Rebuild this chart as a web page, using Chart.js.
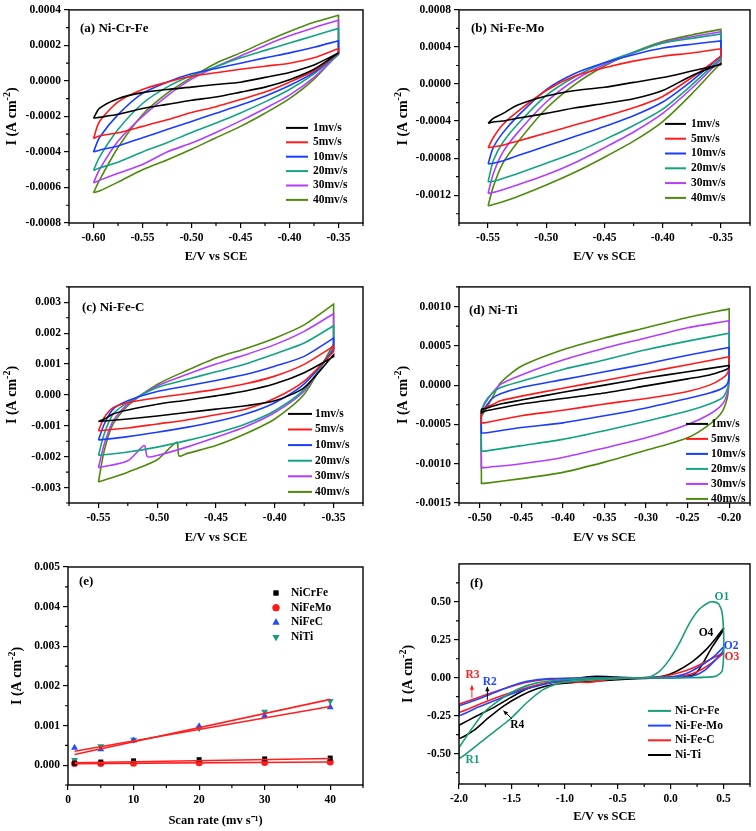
<!DOCTYPE html>
<html>
<head>
<meta charset="utf-8">
<script src="https://cdn.jsdelivr.net/npm/chart.js@4.4.1/dist/chart.umd.min.js"></script>
<style>
  body { margin: 0; background: #fff; }
  #wrap { position: relative; width: 756px; height: 831px; }
  .panel { position: absolute; width: 378px; height: 277px; }
</style>
</head>
<body>
<div id="wrap">
  <div class="panel" style="left:0;top:0"><canvas id="chA" width="378" height="277"></canvas></div>
  <div class="panel" style="left:378px;top:0"><canvas id="chB" width="378" height="277"></canvas></div>
  <div class="panel" style="left:0;top:277px"><canvas id="chC" width="378" height="277"></canvas></div>
  <div class="panel" style="left:378px;top:277px"><canvas id="chD" width="378" height="277"></canvas></div>
  <div class="panel" style="left:0;top:554px"><canvas id="chE" width="378" height="277"></canvas></div>
  <div class="panel" style="left:378px;top:554px"><canvas id="chF" width="378" height="277"></canvas></div>
</div>
<script>
const FONT = "'Liberation Serif', 'Times New Roman', serif";
const rateLabels = ["1mv/s", "5mv/s", "10mv/s", "20mv/s", "30mv/s", "40mv/s"];
const rateColors = ["#000000", "#ff1a1a", "#1a3cff", "#12a383", "#b43cff", "#4d8a0c"];

// ---- (a) Ni-Cr-Fe ----
const aXTicks = [-0.60, -0.55, -0.50, -0.45, -0.40, -0.35];
const aYTicks = [-0.0008, -0.0006, -0.0004, -0.0002, 0, 0.0002, 0.0004];
const aE = [-0.60, -0.594, -0.575, -0.55, -0.525, -0.50, -0.475, -0.45, -0.425, -0.40, -0.375, -0.35];
const aUp = [
  [-0.00021, -0.000155, -0.0001, -0.000066, -0.000048, -0.000035, -0.00002, -0.000007, 0.00002, 0.000048, 0.00009, 0.000158],
  [-0.000324, -0.00023, -0.000118, -0.000048, -0.000007, 0.000026, 0.000046, 0.000066, 0.000083, 0.0001, 0.00013, 0.000182],
  [-0.0004, -0.00032, -0.00019, -0.00007, -0.000007, 0.00004, 0.00007, 0.0001, 0.00013, 0.000158, 0.00019, 0.000226],
  [-0.000504, -0.00043, -0.000274, -0.000127, -0.000035, 0.00003, 0.00008, 0.00013, 0.000172, 0.000213, 0.000255, 0.000296],
  [-0.000574, -0.0005, -0.00034, -0.0002, -0.000085, 0.00001, 0.00008, 0.00014, 0.0002, 0.000254, 0.0003, 0.000342],
  [-0.00063, -0.00056, -0.000375, -0.00019, -0.00007, 0.00002, 0.0001, 0.000158, 0.00022, 0.000278, 0.00033, 0.00037]
];
const aDn = [
  [-0.00021, -0.000205, -0.000188, -0.000155, -0.000132, -0.000109, -0.00009, -0.000063, -0.000035, 0.000007, 0.000066, 0.000158],
  [-0.000324, -0.00031, -0.000292, -0.000256, -0.000219, -0.000178, -0.000145, -0.000105, -0.000063, -0.000007, 0.000057, 0.000158],
  [-0.0004, -0.00039, -0.000366, -0.00032, -0.000274, -0.000228, -0.000182, -0.000136, -0.000086, -0.000026, 0.000048, 0.000158],
  [-0.000504, -0.00049, -0.000458, -0.0004, -0.000348, -0.00029, -0.000237, -0.00018, -0.000118, -0.000048, 0.00004, 0.00015],
  [-0.000574, -0.00056, -0.00052, -0.00047, -0.0004, -0.00035, -0.00029, -0.000225, -0.000155, -0.00008, 0.00002, 0.00015],
  [-0.00063, -0.00062, -0.00057, -0.0005, -0.000445, -0.000385, -0.00032, -0.000256, -0.000182, -0.0001, 0.00001, 0.000158]
];

// ---- (b) Ni-Fe-Mo ----
const bXTicks = [-0.55, -0.50, -0.45, -0.40, -0.35];
const bYTicks = [-0.0012, -0.0008, -0.0004, 0, 0.0004, 0.0008];
const bE = [-0.55, -0.5456, -0.5375, -0.525, -0.50, -0.475, -0.45, -0.425, -0.40, -0.375, -0.35];
const bUp = [
  [-0.000423, -0.00037, -0.00032, -0.00023, -0.00013, -0.00007, -0.000035, 0.000018, 0.00007, 0.00014, 0.00021],
  [-0.000687, -0.00058, -0.00044, -0.0003, -0.00007, 0.000088, 0.000176, 0.000247, 0.0003, 0.000335, 0.00038],
  [-0.000863, -0.000687, -0.00053, -0.000352, -0.00006, 0.000116, 0.000229, 0.000317, 0.000388, 0.00043, 0.000465],
  [-0.001057, -0.000828, -0.000634, -0.00044, -0.000123, 0.000081, 0.000229, 0.000342, 0.00044, 0.000493, 0.00054],
  [-0.00118, -0.00097, -0.00074, -0.00053, -0.000194, 0.000046, 0.00021, 0.000335, 0.000448, 0.00051, 0.000564],
  [-0.001315, -0.00111, -0.00086, -0.000634, -0.000264, 0.0, 0.000194, 0.000342, 0.000458, 0.00053, 0.00059]
];
const bDn = [
  [-0.000423, -0.00041, -0.0004, -0.00037, -0.000317, -0.000257, -0.00021, -0.000159, -0.00007, 0.00009, 0.00022],
  [-0.000687, -0.00068, -0.00066, -0.000617, -0.000529, -0.00044, -0.000352, -0.000257, -0.000134, 0.00007, 0.0003],
  [-0.000863, -0.000855, -0.00083, -0.000775, -0.00067, -0.000564, -0.000458, -0.000342, -0.000194, 0.000035, 0.0003],
  [-0.001057, -0.00105, -0.00102, -0.000969, -0.000856, -0.00074, -0.0006, -0.000448, -0.000271, -0.00001, 0.00028],
  [-0.00118, -0.00117, -0.00114, -0.00109, -0.00098, -0.000846, -0.000687, -0.000518, -0.000317, -0.000046, 0.000264],
  [-0.001315, -0.0013, -0.00127, -0.001216, -0.00109, -0.00095, -0.00079, -0.000617, -0.000405, -0.000106, 0.00023]
];

// ---- (c) Ni-Fe-C ----
const cXTicks = [-0.55, -0.50, -0.45, -0.40, -0.35];
const cYTicks = [-0.003, -0.002, -0.001, 0, 0.001, 0.002, 0.003];
const cEUp = [-0.55, -0.545, -0.5375, -0.525, -0.50, -0.475, -0.45, -0.425, -0.40, -0.375, -0.35];
const cUp = [
  [-0.00086, -0.00078, -0.00062, -0.00049, -0.0003, -0.00017, -0.00003, 0.00013, 0.00036, 0.00072, 0.00124],
  [-0.00116, -0.00073, -0.00041, -0.00025, -0.00009, 0.00004, 0.00018, 0.00036, 0.00061, 0.00099, 0.00158],
  [-0.00146, -0.00094, -0.00046, -0.00019, 0.00011, 0.00029, 0.00047, 0.00066, 0.00093, 0.00125, 0.00184],
  [-0.00196, -0.00126, -0.00062, -0.00025, 0.00024, 0.0005, 0.00075, 0.001, 0.00133, 0.00168, 0.00224],
  [-0.00236, -0.00159, -0.00084, -0.0003, 0.00029, 0.00066, 0.001, 0.0013, 0.00163, 0.00206, 0.00263],
  [-0.00282, -0.0018, -0.00094, -0.00035, 0.00034, 0.00079, 0.0012, 0.0015, 0.00184, 0.00227, 0.00294]
];
const cEDn = [-0.55, -0.525, -0.50, -0.475, -0.45, -0.425, -0.40, -0.375, -0.35];
const cEDnPurple = [-0.55, -0.525, -0.511, -0.5083, -0.50, -0.475, -0.45, -0.425, -0.40, -0.375, -0.35];
const cEDnGreen = [-0.55, -0.525, -0.50, -0.4834, -0.4814, -0.475, -0.45, -0.425, -0.40, -0.375, -0.35];
const cDn = [
  [-0.00086, -0.00078, -0.00068, -0.00057, -0.00046, -0.00035, -0.00019, 0.00024, 0.0013],
  [-0.00116, -0.00107, -0.00094, -0.00081, -0.00064, -0.00046, -0.00011, 0.00045, 0.0014],
  [-0.00146, -0.00135, -0.00121, -0.00105, -0.00086, -0.00062, -0.00025, 0.00036, 0.00145],
  [-0.00196, -0.00185, -0.00169, -0.00148, -0.00124, -0.00094, -0.00051, 0.00018, 0.0015],
  [-0.00236, -0.00213, -0.00164, -0.0020, -0.00196, -0.00169, -0.00137, -0.00103, -0.00057, 0.00013, 0.00155],
  [-0.00282, -0.0025, -0.0021, -0.00153, -0.00198, -0.0019, -0.00164, -0.00126, -0.00078, 0.00002, 0.00165]
];
const cEDnList = [cEDn, cEDn, cEDn, cEDn, cEDnPurple, cEDnGreen];

// ---- (d) Ni-Ti ----
const dXTicks = [-0.50, -0.45, -0.40, -0.35, -0.30, -0.25, -0.20];
const dYTicks = [-0.0015, -0.0010, -0.0005, 0, 0.0005, 0.0010];
const dEUp = [-0.498, -0.498, -0.494, -0.485, -0.475, -0.45, -0.40, -0.35, -0.30, -0.25, -0.20];
const dUp = [
  [-0.00035, -0.00031, -0.0003, -0.00027, -0.00024, -0.00019, -0.00009, 0.0, 0.00009, 0.00017, 0.00025],
  [-0.00048, -0.00033, -0.00029, -0.00025, -0.0002, -0.00014, -0.00004, 0.00006, 0.00016, 0.00026, 0.00036],
  [-0.00061, -0.00037, -0.00029, -0.00017, -0.00011, -0.00003, 0.00007, 0.00017, 0.00027, 0.00038, 0.00048],
  [-0.00084, -0.00035, -0.00022, -0.0001, -0.00003, 0.00005, 0.0002, 0.00032, 0.00045, 0.00056, 0.00066],
  [-0.00105, -0.00035, -0.00024, -0.0001, 0.00001, 0.00013, 0.00032, 0.00047, 0.0006, 0.00073, 0.00082],
  [-0.00125, -0.0004, -0.00033, -0.00016, 0.00003, 0.00024, 0.00045, 0.0006, 0.00073, 0.00086, 0.00097]
];
const dEDn = [-0.494, -0.45, -0.40, -0.35, -0.30, -0.25, -0.2237, -0.208, -0.2016, -0.20];
const dDn = [
  [-0.00033, -0.00024, -0.00017, -0.0001, -0.00001, 0.00008, 0.00013, 0.00018, 0.00021, 0.00024],
  [-0.00048, -0.00039, -0.00032, -0.00024, -0.00017, -0.00008, 0.0, 0.00009, 0.00016, 0.00026],
  [-0.00061, -0.00054, -0.00048, -0.00039, -0.00029, -0.00017, -0.0001, -0.00004, 0.00003, 0.00013],
  [-0.00084, -0.00077, -0.00069, -0.00058, -0.00046, -0.00033, -0.00024, -0.00016, -0.00003, 0.00009],
  [-0.00105, -0.001, -0.00092, -0.0008, -0.00067, -0.0005, -0.00037, -0.00024, -0.00008, 0.00009],
  [-0.00125, -0.00119, -0.00111, -0.00098, -0.00083, -0.00067, -0.0005, -0.00033, -0.00012, 0.00032]
];

// ---- (e) scan rate ----
const eXTicks = [0, 10, 20, 30, 40];
const eYTicks = [0, 0.001, 0.002, 0.003, 0.004, 0.005];
const scanRates = [1, 5, 10, 20, 30, 40];
const eNiCrFe = [0.00005, 0.00008, 0.00011, 0.00014, 0.00016, 0.00018];
const eNiFeMo = [0.00004, 0.00004, 0.00005, 0.00006, 0.00007, 0.00008];
const eNiFeC = [0.00044, 0.0004, 0.00062, 0.00098, 0.00125, 0.00146];
const eNiTi = [0.00013, 0.00048, 0.00064, 0.00093, 0.00135, 0.00162];
const fitX = [1, 40];
const fitNiCrFe = [0.00006, 0.00017];
const fitNiFeMo = [0.00004, 0.00008];
const fitNiFeC = [0.00035, 0.00148];
const fitNiTi = [0.00027, 0.00166];

// ---- (f) wide range CV ----
const fXTicks = [-2.0, -1.5, -1.0, -0.5, 0.0, 0.5];
const fYTicks = [-0.50, -0.25, 0, 0.25, 0.50];
const fCrFeE = [-2.0, -1.888, -1.763, -1.607, -1.451, -1.263, -1.014, -0.733, -0.265, -0.202, -0.109, -0.015, 0.079, 0.172, 0.266, 0.36, 0.406, 0.453, 0.484, 0.5, 0.5, 0.484, 0.422, 0.203, -0.265, -0.733, -1.045, -1.201, -1.357, -1.513, -1.669, -1.825, -2.0, -2.0];
const fCrFeI = [-0.46, -0.345, -0.227, -0.142, -0.077, -0.034, -0.013, -0.004, 0, 0.004, 0.04, 0.116, 0.223, 0.352, 0.448, 0.496, 0.5, 0.487, 0.438, 0.31, 0.137, 0.04, 0.009, 0, -0.002, -0.013, -0.034, -0.077, -0.163, -0.27, -0.356, -0.442, -0.532, -0.46];
const fFeMoE = [-2.0, -1.825, -1.669, -1.513, -1.357, -1.139, -0.733, -0.265, -0.015, 0.141, 0.297, 0.422, 0.5, 0.49, 0.422, 0.328, 0.235, 0.141, -0.109, -0.577, -1.014, -1.201, -1.357, -1.513, -1.669, -1.825, -2.0, -2.0];
const fFeMoI = [-0.185, -0.142, -0.099, -0.056, -0.024, -0.006, 0, 0, 0.004, 0.026, 0.084, 0.148, 0.202, 0.17, 0.116, 0.052, 0.017, 0.004, 0, -0.004, -0.017, -0.045, -0.073, -0.109, -0.152, -0.195, -0.249, -0.185];
const fFeCE = [-2.0, -1.825, -1.669, -1.513, -1.357, -1.201, -0.889, -0.421, -0.109, 0.047, 0.203, 0.36, 0.5, 0.49, 0.391, 0.297, 0.203, 0.047, -0.265, -0.577, -0.764, -0.951, -1.139, -1.326, -1.513, -1.669, -1.825, -2.0, -2.0];
const fFeCI = [-0.174, -0.131, -0.094, -0.06, -0.03, -0.013, -0.004, 0, 0.004, 0.026, 0.062, 0.116, 0.163, 0.155, 0.099, 0.056, 0.026, 0.004, 0, -0.009, -0.03, -0.026, -0.03, -0.06, -0.099, -0.137, -0.18, -0.227, -0.174];
const fTiE = [-2.0, -1.825, -1.669, -1.513, -1.357, -1.201, -1.014, -0.889, -0.702, -0.514, -0.265, -0.077, 0.047, 0.203, 0.328, 0.422, 0.5, 0.484, 0.391, 0.313, 0.266, 0.203, 0.047, -0.265, -0.577, -0.889, -1.107, -1.263, -1.42, -1.576, -1.732, -1.856, -2.0, -2.0];
const fTiI = [-0.313, -0.249, -0.195, -0.131, -0.073, -0.039, -0.021, -0.004, 0.009, 0.004, 0, 0.009, 0.04, 0.105, 0.18, 0.255, 0.326, 0.298, 0.202, 0.105, 0.052, 0.017, 0.004, -0.004, -0.017, -0.03, -0.045, -0.073, -0.12, -0.185, -0.27, -0.345, -0.399, -0.313];

// ---------- helpers ----------
// walk the lower branch left->right, then the upper branch back; the
// repeated points at the turns keep the spline from bulging past the vertex
function loopPoints(eDn, iDn, eUp, iUp) {
  const pts = eDn.map((e, k) => ({ x: e, y: iDn[k] }));
  pts.push(pts[pts.length - 1]);
  const top = eUp.length - 1;
  pts.push({ x: eUp[top], y: iUp[top] });
  for (let k = top; k >= 0; k--) pts.push({ x: eUp[k], y: iUp[k] });
  pts.push(pts[pts.length - 1]);
  pts.push(pts[0]);
  return pts;
}
function zipPoints(xs, ys) {
  return xs.map((x, k) => ({ x: x, y: ys[k] }));
}
function minorTicks(ticks, min, max) {
  const step = ticks[1] - ticks[0];
  const out = [];
  for (let v = ticks[0] - step / 2; v <= max + 1e-12; v += step) {
    if (v >= min - 1e-12) out.push(v);
  }
  return out;
}
function axis(min, max, ticks, digits, title, titlePad, size, horizontal) {
  return {
    type: "linear",
    min: min,
    max: max,
    afterBuildTicks: (s) => { s.ticks = ticks.map((v) => ({ value: v })); },
    afterFit: (s) => { if (horizontal) s.height = size; else s.width = size; },
    grid: { display: true, drawOnChartArea: false, drawTicks: true, tickLength: 5, color: "#000", lineWidth: 1.2 },
    border: { display: false },
    ticks: {
      color: "#000",
      padding: 3,
      autoSkip: false,
      maxRotation: 0,
      font: { family: FONT, size: 11.5, weight: "bold" },
      callback: (v) => Number(v).toFixed(digits)
    },
    title: {
      display: horizontal,
      text: title,
      color: "#000",
      font: { family: FONT, size: 12.5, weight: "bold" },
      padding: { top: 0, bottom: titlePad }
    }
  };
}

// draws "base" + raised smaller "sup" + "tail", centred on (0,0) of the current transform
function supText(ctx, base, sup, tail, size) {
  const big = "bold " + size + "px " + FONT, small = "bold " + Math.round(size * 0.68) + "px " + FONT;
  ctx.font = big; const w1 = ctx.measureText(base).width, w3 = ctx.measureText(tail).width;
  ctx.font = small; const w2 = ctx.measureText(sup).width;
  let x = -(w1 + w2 + w3) / 2;
  ctx.textAlign = "left"; ctx.textBaseline = "alphabetic";
  const base0 = size * 0.35;
  ctx.font = big; ctx.fillText(base, x, base0); x += w1;
  ctx.font = small; ctx.fillText(sup, x, base0 - size * 0.42); x += w2;
  ctx.font = big; ctx.fillText(tail, x, base0);
}

const decor = {
  id: "decor",
  afterDraw(chart, args, o) {
    const ctx = chart.ctx;
    const a = chart.chartArea;
    const xs = chart.scales.x, ys = chart.scales.y;
    ctx.save();
    ctx.strokeStyle = "#000";
    ctx.lineWidth = 1.2;
    ctx.beginPath();
    minorTicks(o.xTicks, xs.min, xs.max).forEach((v) => {
      const p = xs.getPixelForValue(v);
      ctx.moveTo(p, a.bottom); ctx.lineTo(p, a.bottom + 3);
    });
    minorTicks(o.yTicks, ys.min, ys.max).forEach((v) => {
      const p = ys.getPixelForValue(v);
      ctx.moveTo(a.left - 3, p); ctx.lineTo(a.left, p);
    });
    ctx.stroke();
    ctx.lineWidth = 1.4;
    ctx.strokeRect(a.left, a.top, a.right - a.left, a.bottom - a.top);

    // y title with a real superscript
    ctx.fillStyle = "#000";
    ctx.save();
    ctx.translate(o.yTitleX, (a.top + a.bottom) / 2);
    ctx.rotate(-Math.PI / 2);
    supText(ctx, "I (A cm", "-2", ")", 14);
    ctx.restore();

    ctx.textAlign = "left";
    ctx.textBaseline = "middle";
    ctx.font = "bold 13px " + FONT;
    ctx.fillText(o.label, a.left + o.lx, a.top + o.ly);

    // legend
    const L = o.legend;
    ctx.font = "bold 11.5px " + FONT;
    let row = 0;
    chart.data.datasets.forEach((d) => {
      if (d.noLegend) return;
      const y = a.top + L.y0 + row * L.dy;
      if (L.marker) {
        ctx.fillStyle = d.backgroundColor;
        Chart.helpers.drawPoint(ctx, { pointStyle: d.pointStyle, rotation: d.rotation || 0, radius: d.pointRadius, borderWidth: 0 }, a.right + L.mx, y);
        ctx.fill();
      } else {
        ctx.strokeStyle = d.borderColor;
        ctx.lineWidth = 2;
        ctx.beginPath();
        ctx.moveTo(a.right + L.x1, y); ctx.lineTo(a.right + L.x2, y);
        ctx.stroke();
      }
      ctx.fillStyle = "#000";
      ctx.fillText(d.label, a.right + L.tx, y);
      row++;
    });

    // notes and arrows in data coordinates
    (o.notes || []).forEach((n) => {
      ctx.fillStyle = n.c;
      ctx.textAlign = "center";
      ctx.fillText(n.t, xs.getPixelForValue(n.x), ys.getPixelForValue(n.y));
    });
    (o.arrows || []).forEach((r) => {
      const x1 = xs.getPixelForValue(r.x1), y1 = ys.getPixelForValue(r.y1);
      const x2 = xs.getPixelForValue(r.x2), y2 = ys.getPixelForValue(r.y2);
      const ang = Math.atan2(y2 - y1, x2 - x1);
      ctx.strokeStyle = r.c; ctx.fillStyle = r.c; ctx.lineWidth = 1;
      ctx.beginPath(); ctx.moveTo(x1, y1); ctx.lineTo(x2, y2); ctx.stroke();
      ctx.beginPath();
      ctx.moveTo(x2, y2);
      ctx.lineTo(x2 - 5 * Math.cos(ang - 0.45), y2 - 5 * Math.sin(ang - 0.45));
      ctx.lineTo(x2 - 5 * Math.cos(ang + 0.45), y2 - 5 * Math.sin(ang + 0.45));
      ctx.closePath(); ctx.fill();
    });
    ctx.restore();
  }
};

function makeChart(id, datasets, p) {
  return new Chart(document.getElementById(id), {
    type: "line",
    data: { datasets: datasets },
    options: {
      responsive: false,
      animation: false,
      layout: { padding: { left: 0, top: p.top, right: p.right, bottom: 0 } },
      elements: { point: { radius: 0 } },
      scales: {
        x: axis(p.xMin, p.xMax, p.xTicks, p.xDigits, p.xTitle, p.xPad, p.xH, true),
        y: axis(p.yMin, p.yMax, p.yTicks, p.yDigits, "", 0, p.yW, false)
      },
      plugins: {
        legend: { display: false },
        tooltip: { enabled: false },
        decor: { xTicks: p.xTicks, yTicks: p.yTicks, yTitleX: p.yTitleX, label: p.label, lx: p.lx, ly: p.ly, legend: p.legend, notes: p.notes, arrows: p.arrows }
      }
    },
    plugins: [decor]
  });
}

function rateSets(eDnList, dn, eUp, up) {
  return rateLabels.map((lab, k) => ({
    label: lab,
    data: loopPoints(eDnList[k], dn[k], eUp, up[k]),
    borderColor: rateColors[k],
    borderWidth: 1.6,
    tension: 0.25,
    pointRadius: 0
  }));
}
const same = (e) => [e, e, e, e, e, e];

makeChart("chA", rateSets(same(aE), aDn, aE, aUp), {
  top: 6, right: 15, yW: 69, xH: 54, xMin: -0.625, xMax: -0.325, yMin: -0.0008, yMax: 0.0004,
  xTicks: aXTicks, yTicks: aYTicks, xDigits: 2, yDigits: 4, xTitle: "E/V vs SCE", xPad: 12.5, yTitleX: 11,
  label: "(a) Ni-Cr-Fe", lx: 11, ly: 19, legend: { x1: -77, x2: -55, tx: -50, y0: 118, dy: 14.4 }
});
makeChart("chB", rateSets(same(bE), bDn, bE, bUp), {
  top: 6, right: 6, yW: 81, xH: 54, xMin: -0.575, xMax: -0.325, yMin: -0.0015, yMax: 0.0008,
  xTicks: bXTicks, yTicks: bYTicks, xDigits: 2, yDigits: 4, xTitle: "E/V vs SCE", xPad: 12.5, yTitleX: 24,
  label: "(b) Ni-Fe-Mo", lx: 12, ly: 19, legend: { x1: -85, x2: -64, tx: -59, y0: 114, dy: 14.8 }
});
makeChart("chC", rateSets(cEDnList, cDn, cEUp, cUp), {
  top: 7, right: 15, yW: 69, xH: 51, xMin: -0.575, xMax: -0.325, yMin: -0.0035, yMax: 0.0035,
  xTicks: cXTicks, yTicks: cYTicks, xDigits: 2, yDigits: 3, xTitle: "E/V vs SCE", xPad: 8.5, yTitleX: 11,
  label: "(c) Ni-Fe-C", lx: 13, ly: 21, legend: { x1: -75, x2: -51, tx: -48, y0: 127, dy: 15.6 }
});
makeChart("chD", rateSets(same(dEDn), dDn, dEUp, dUp), {
  top: 7, right: 6, yW: 81, xH: 51, xMin: -0.525, xMax: -0.175, yMin: -0.0015, yMax: 0.00125,
  xTicks: dXTicks, yTicks: dYTicks, xDigits: 2, yDigits: 4, xTitle: "E/V vs SCE", xPad: 8.5, yTitleX: 24,
  label: "(d) Ni-Ti", lx: 10, ly: 24, legend: { x1: -64, x2: -42, tx: -39, y0: 137, dy: 15 }
});

const fitStyle = { borderColor: "#ff1f1f", borderWidth: 1.6, pointRadius: 0, noLegend: true };
makeChart("chE", [
  Object.assign({ label: "fitCrFe", data: zipPoints(fitX, fitNiCrFe) }, fitStyle),
  Object.assign({ label: "fitFeMo", data: zipPoints(fitX, fitNiFeMo) }, fitStyle),
  Object.assign({ label: "fitFeC", data: zipPoints(fitX, fitNiFeC) }, fitStyle),
  Object.assign({ label: "fitTi", data: zipPoints(fitX, fitNiTi) }, fitStyle),
  { label: "NiCrFe", data: zipPoints(scanRates, eNiCrFe), showLine: false, pointStyle: "rect", pointRadius: 3.5, backgroundColor: "#000000", borderColor: "#000000", borderWidth: 0 },
  { label: "NiFeMo", data: zipPoints(scanRates, eNiFeMo), showLine: false, pointStyle: "circle", pointRadius: 3.5, backgroundColor: "#ff1a1a", borderColor: "#ff1a1a", borderWidth: 0 },
  { label: "NiFeC", data: zipPoints(scanRates, eNiFeC), showLine: false, pointStyle: "triangle", pointRadius: 4, backgroundColor: "#1f4fff", borderColor: "#1f4fff", borderWidth: 0 },
  { label: "NiTi", data: zipPoints(scanRates, eNiTi), showLine: false, pointStyle: "triangle", rotation: 180, pointRotation: 180, pointRadius: 4, backgroundColor: "#1c9c7c", borderColor: "#1c9c7c", borderWidth: 0 }
], {
  top: 13, right: 15, yW: 68, xH: 46, xMin: 0, xMax: 45, yMin: -0.0005, yMax: 0.005,
  xTicks: eXTicks, yTicks: eYTicks, xDigits: 0, yDigits: 3, xTitle: "Scan rate (mv s\u207B\u00B9)", xPad: 2.5, yTitleX: 16,
  label: "(e)", lx: 11, ly: 15, legend: { marker: true, mx: -87, tx: -72, y0: 26, dy: 14.7 }
});

const fTeal = "#1a9c7a", fBlue = "#2146ff", fRed = "#ff1f1f", fBlack = "#000000";
makeChart("chF", [
  { label: "Ni-Cr-Fe", data: zipPoints(fCrFeE, fCrFeI), borderColor: fTeal, borderWidth: 1.6, tension: 0.2 },
  { label: "Ni-Fe-Mo", data: zipPoints(fFeMoE, fFeMoI), borderColor: fBlue, borderWidth: 1.6, tension: 0.2 },
  { label: "Ni-Fe-C", data: zipPoints(fFeCE, fFeCI), borderColor: fRed, borderWidth: 1.6, tension: 0.2 },
  { label: "Ni-Ti", data: zipPoints(fTiE, fTiI), borderColor: fBlack, borderWidth: 1.6, tension: 0.2 }
], {
  top: 6, right: 6, yW: 81, xH: 47, xMin: -2.0, xMax: 0.75, yMin: -0.7, yMax: 0.75,
  xTicks: fXTicks, yTicks: fYTicks, xDigits: 1, yDigits: 2, xTitle: "E/V vs SCE", xPad: 6.5, yTitleX: 29,
  label: "(f)", lx: 11, ly: 20, legend: { x1: -102, x2: -79, tx: -75, y0: 147, dy: 14.7 },
  notes: [
    { t: "O1", x: 0.485, y: 0.534, c: fTeal },
    { t: "O4", x: 0.334, y: 0.292, c: fBlack },
    { t: "O2", x: 0.572, y: 0.206, c: fBlue },
    { t: "O3", x: 0.578, y: 0.137, c: fRed },
    { t: "R3", x: -1.872, y: 0.015, c: fRed },
    { t: "R2", x: -1.71, y: -0.028, c: fBlue },
    { t: "R4", x: -1.45, y: -0.31, c: fBlack },
    { t: "R1", x: -1.872, y: -0.545, c: fTeal }
  ],
  arrows: [
    { x1: -1.878, y1: -0.131, x2: -1.878, y2: -0.05, c: fRed },
    { x1: -1.732, y1: -0.146, x2: -1.732, y2: -0.06, c: fBlack },
    { x1: -1.5, y1: -0.27, x2: -1.58, y2: -0.217, c: fBlack }
  ]
});
</script>
</body>
</html>
